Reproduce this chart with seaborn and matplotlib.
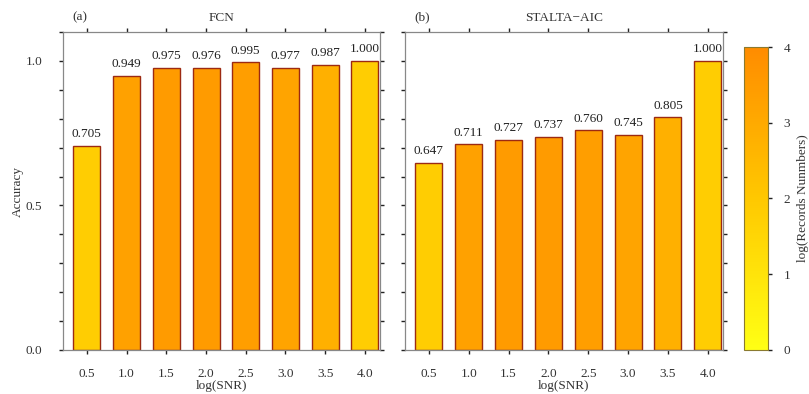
import numpy as np
import pandas as pd
import matplotlib
matplotlib.use("Agg")
import matplotlib.pyplot as plt
import seaborn as sns
from matplotlib.colors import LinearSegmentedColormap, Normalize
from matplotlib.ticker import MultipleLocator
from matplotlib.cm import ScalarMappable

snr_labels = ["0.5", "1.0", "1.5", "2.0", "2.5", "3.0", "3.5", "4.0"]
acc_fcn = [0.705, 0.949, 0.975, 0.976, 0.995, 0.977, 0.987, 1.000]
acc_stalta = [0.647, 0.711, 0.727, 0.737, 0.760, 0.745, 0.805, 1.000]
log_records = [1.8, 3.3, 3.5, 3.5, 3.4, 3.2, 2.8, 1.8]

sns.set_theme(style="white")
plt.rcParams["font.family"] = ["Liberation Serif", "DejaVu Serif"]
FS = 9.5
plt.rcParams["font.size"] = FS

cmap = LinearSegmentedColormap.from_list("yl_or", ["#ffff14", "#ffc800", "#ff8c00"])
norm = Normalize(0, 4)
bar_colors = [cmap(norm(v)) for v in log_records]

fig = plt.figure(figsize=(8.09, 3.94), dpi=100)
ax_a = fig.add_axes([0.0779, 0.1117, 0.3918, 0.807])
ax_b = fig.add_axes([0.5006, 0.1117, 0.3930, 0.807])
cax = fig.add_axes([0.9197, 0.1117, 0.0297, 0.769])

panels = [(ax_a, acc_fcn, "FCN", "(a)"), (ax_b, acc_stalta, "STALTA\u2212AIC", "(b)")]
for ax, acc, title, tag in panels:
    df = pd.DataFrame({"snr": snr_labels, "acc": acc})
    sns.barplot(data=df, x="snr", y="acc", hue="snr", palette=bar_colors,
                legend=False, width=0.68, edgecolor="#9c2a12", linewidth=1.0,
                saturation=1, ax=ax)
    for i, v in enumerate(acc):
        ax.text(i, v + 0.02, f"{v:.3f}", ha="center", va="bottom",
                fontsize=FS, color="#222222")
    ax.set_xlim(-0.6, 7.38)
    ax.set_ylim(0, 1.1)
    ax.yaxis.set_major_locator(MultipleLocator(0.5))
    ax.yaxis.set_minor_locator(MultipleLocator(0.1))
    ax.tick_params(axis="both", which="both", direction="out", length=3,
                   width=1.0, color="#222222", labelcolor="#333333",
                   top=True, right=True, bottom=True, left=True, labelsize=FS)
    ax.tick_params(axis="x", pad=10)
    ax.tick_params(axis="y", which="major", pad=12)
    for s in ax.spines.values():
        s.set_color("#888888")
        s.set_linewidth(0.9)
    ax.set_xlabel("log(SNR)", fontsize=FS, color="#333333", labelpad=0)
    ax.set_title(title, fontsize=FS, color="#333333", pad=8)
    ax.text(0.03, 1.027, tag, transform=ax.transAxes, fontsize=FS,
            color="#333333", va="bottom", ha="left")

ax_a.set_yticks([0.0, 0.5, 1.0])
ax_a.set_yticklabels(["0.0", "0.5", "1.0"])
ax_a.set_ylabel("Accuracy", fontsize=FS, color="#333333", labelpad=1)
ax_b.set_ylabel("")
ax_b.tick_params(axis="y", labelleft=False)

sm = ScalarMappable(norm=norm, cmap=cmap)
cb = fig.colorbar(sm, cax=cax)
cb.set_ticks([0, 1, 2, 3, 4])
cb.outline.set_edgecolor("#8a7a30")
cb.outline.set_linewidth(0.8)
cax.tick_params(length=3, width=1.0, color="#222222", labelcolor="#333333",
                labelsize=FS, pad=8)
cb.set_label("log(Records Nunmbers)", fontsize=FS, color="#333333", labelpad=5)

fig.savefig("out.png", dpi=100, facecolor="white")
